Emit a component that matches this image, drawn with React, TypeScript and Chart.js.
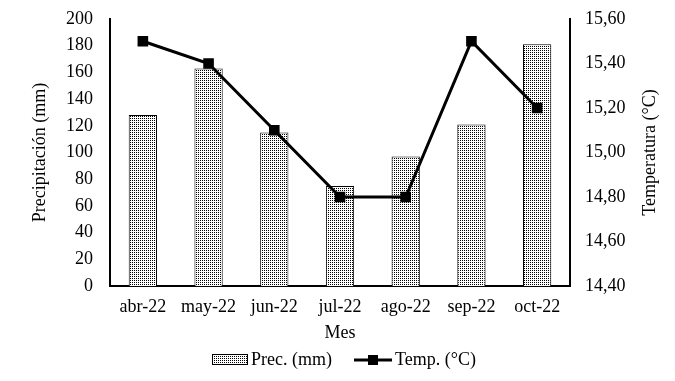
import React, { useEffect, useRef } from "react";
import { Chart, registerables } from "chart.js";

Chart.register(...registerables);

const categories = ["abr-22", "may-22", "jun-22", "jul-22", "ago-22", "sep-22", "oct-22"];
const precipitation = [128, 163, 115, 75, 97, 121, 181];
const temperature = [15.5, 15.4, 15.1, 14.8, 14.8, 15.5, 15.2];
const precLabel = "Prec. (mm)";
const tempLabel = "Temp. (°C)";
const leftTitle = "Precipitación (mm)";
const rightTitle = "Temperatura (°C)";
const xTitle = "Mes";

const FONT = "'Liberation Serif', 'Times New Roman', serif";

function makePattern(): CanvasPattern | string {
  const c = document.createElement("canvas");
  c.width = 2;
  c.height = 2;
  const g = c.getContext("2d");
  if (!g) return "#aaa";
  g.fillStyle = "#ffffff";
  g.fillRect(0, 0, 2, 2);
  g.fillStyle = "#000000";
  g.fillRect(0, 0, 1, 1);
  const ctx = document.createElement("canvas").getContext("2d");
  return (ctx && ctx.createPattern(c, "repeat")) || "#aaa";
}

export default function App() {
  const ref = useRef<HTMLCanvasElement | null>(null);

  useEffect(() => {
    document.body.style.margin = "0";
    if (!ref.current) return;
    const pattern = makePattern();

    const extrasPlugin = {
      id: "customLegend",
      afterDraw(chart: any) {
        const ctx = chart.ctx;
        ctx.save();
        const y = 360;
        ctx.font = `18px ${FONT}`;
        ctx.textBaseline = "middle";
        // bar item
        ctx.fillStyle = pattern as any;
        ctx.fillRect(212, 354, 36, 11);
        ctx.strokeStyle = "#000";
        ctx.lineWidth = 1;
        ctx.strokeRect(212.5, 354.5, 35, 10);
        ctx.fillStyle = "#000";
        ctx.textAlign = "left";
        ctx.fillText(precLabel, 251, y);
        // line item
        ctx.beginPath();
        ctx.lineWidth = 3;
        ctx.moveTo(354, y);
        ctx.lineTo(392, y);
        ctx.stroke();
        ctx.fillRect(368, y - 5, 10, 10);
        ctx.fillText(tempLabel, 395, y);
        // right axis title, reading bottom to top
        const area = chart.chartArea;
        ctx.translate(650, (area.top + area.bottom) / 2);
        ctx.rotate(-Math.PI / 2);
        ctx.textAlign = "center";
        ctx.fillText(rightTitle, 0, 0);
        ctx.restore();
      },
    };

    const fitY = (w: number) => (scale: any) => {
      scale.width = w;
      scale.paddingTop = 0;
      scale.paddingBottom = 0;
    };

    const chart = new Chart(ref.current, {
      data: {
        labels: categories,
        datasets: [
          {
            type: "line",
            label: tempLabel,
            data: temperature,
            yAxisID: "y1",
            borderColor: "#000",
            backgroundColor: "#000",
            borderWidth: 3,
            pointStyle: "rect",
            pointRadius: 7.5,
            pointBorderWidth: 0,
            tension: 0,
            order: 0,
          },
          {
            type: "bar",
            label: precLabel,
            data: precipitation,
            yAxisID: "y",
            backgroundColor: pattern as any,
            borderColor: "#000",
            borderWidth: 1,
            barPercentage: 0.43,
            categoryPercentage: 1,
            order: 1,
          },
        ],
      } as any,
      options: {
        responsive: true,
        maintainAspectRatio: false,
        animation: false,
        layout: { padding: { left: 0, right: 0, top: 19, bottom: 37 } },
        plugins: { legend: { display: false }, tooltip: { enabled: false } },
        scales: {
          x: {
            type: "category",
            offset: true,
            grid: { display: false, drawTicks: false },
            border: { display: true, color: "#000", width: 2 },
            ticks: { color: "#000", font: { family: FONT, size: 18 }, padding: 10 },
            title: {
              display: true,
              text: xTitle,
              color: "#000",
              font: { family: FONT, size: 18 },
              padding: { top: 0, bottom: 0 },
            },
            afterFit(scale: any) {
              scale.height = 58;
              scale.paddingLeft = 0;
              scale.paddingRight = 0;
            },
          },
          y: {
            position: "left",
            min: 0,
            max: 200,
            grid: { display: false, drawTicks: false },
            border: { display: true, color: "#000", width: 2 },
            ticks: { stepSize: 20, color: "#000", font: { family: FONT, size: 18 }, padding: 17 },
            title: {
              display: true,
              text: leftTitle,
              color: "#000",
              font: { family: FONT, size: 18 },
              padding: { top: 29, bottom: 0 },
            },
            afterFit: fitY(110),
          },
          y1: {
            position: "right",
            min: 14.4,
            max: 15.6,
            grid: { display: false, drawTicks: false },
            border: { display: true, color: "#000", width: 2 },
            ticks: {
              stepSize: 0.2,
              color: "#000",
              font: { family: FONT, size: 18 },
              padding: 15,
              callback: (v: any) => Number(v).toFixed(2).replace(".", ","),
            },
            title: { display: false, text: rightTitle },
            afterFit: fitY(105),
          },
        },
      } as any,
      plugins: [extrasPlugin],
    });
    return () => chart.destroy();
  }, []);

  return (
    <div style={{ width: 675, height: 381, position: "relative", background: "#fff" }}>
      <canvas ref={ref} />
    </div>
  );
}
